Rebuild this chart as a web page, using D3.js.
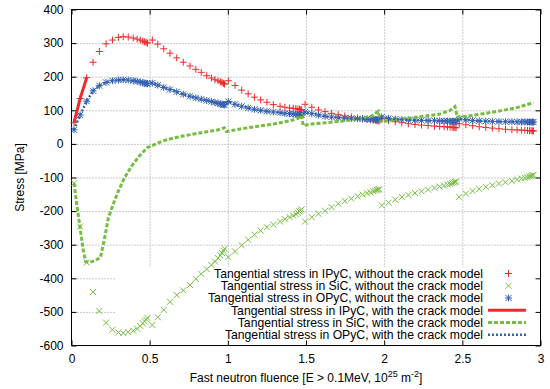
<!DOCTYPE html>
<html>
<head>
<meta charset="utf-8">
<script src="https://cdn.jsdelivr.net/npm/d3@7"></script>
<style>
  body { margin: 0; background: #fff; }
  svg { display: block; font-family: "Liberation Sans", Arial, Helvetica, sans-serif; }
  .grid line { stroke: #999; stroke-dasharray: 1,2; }
  .grid path { display: none; }
  .axis path { display: none; }
  .axis line { stroke: #000; }
  .axis text { font-size: 12px; fill: #000; }
</style>
</head>
<body>
<svg id="chart" width="550" height="389"></svg>
<script>
// fluence steps of the irradiation history (same for the three "without crack" series)
var fluence = [
  0.016,0.055,0.097,0.138,0.178,0.221,0.262,0.300,0.331,0.363,0.395,0.420,0.440,0.456,0.468,0.478,0.486,
  0.517,0.552,0.590,0.630,0.673,0.715,0.758,0.795,0.830,0.865,0.895,0.918,0.937,0.952,0.963,0.972,0.979,
  1.003,1.046,1.089,1.130,1.170,1.210,1.250,1.291,1.334,1.365,1.395,1.418,1.435,1.448,1.458,1.466,1.472,
  1.494,1.537,1.580,1.622,1.664,1.706,1.748,1.790,1.830,1.862,1.890,1.912,1.930,1.943,1.953,1.961,1.968,
  1.985,2.028,2.071,2.113,2.155,2.197,2.239,2.281,2.322,2.355,2.383,2.405,2.422,2.435,2.445,2.453,2.460,
  2.480,2.523,2.566,2.608,2.650,2.692,2.734,2.776,2.817,2.850,2.878,2.900,2.917,2.930,2.940,2.948,2.955
];

var ipyc = [
  63,135,197,243,275,298,309,317,319,318,315,312,309,306,304,302,300,
  309,297,283,270,256,243,232,222,213,203,196,191,188,185,183,180,178,
  188,174,160,149,139,131,124,117,112,109,107,106,105,104,103,102,101,
  118,109,101,96,91,87,83,80,77,75,73,72,71,70,69,69,68,
  75,70,66,63,60,58,56,54.5,53,52,51,50.5,50,49.5,49,48.5,48,
  60,57,54,51,49,47,45,43.5,42,41.5,41,40.5,40,39.5,39,39,38.5
];

var sic = [
  -117,-246,-353,-441,-497,-532,-553,-561,-563,-560,-556,-550,-542,-534,-528,-523,-518,
  -539,-516,-494,-470,-450,-436,-420,-402,-387,-373,-360,-350,-340,-332,-325,-318,-312,
  -337,-320,-302,-285,-270,-258,-248,-240,-231,-224,-218,-213,-209,-205,-201,-198,-195,
  -231,-218,-208,-199,-188,-178,-170,-163,-156,-151,-147,-144,-141,-139,-137,-136,-135,
  -183,-175,-166,-158,-152,-146,-141,-136,-131,-127,-124,-121,-119,-117,-115,-113,-112,
  -158,-148,-140,-134,-128,-123,-118,-114,-110,-106,-103,-101,-99,-97,-96,-94,-93
];

var opyc = [
  42,86,127,158,173,183,188,190,191,190,188,186,184,182,181,180,179,
  181,175,168,162,155,148,142,137,133,129,126,123,121,119,118,117,116,
  126,118,112,107,103,100,97,95,93,91,90,89,88,87.5,87,86.5,86,
  95,90,86,82,80,78,77,76,75,74.5,74,73.5,73,73,72.5,72.5,72,
  80,76,74,72.5,71.5,70.5,70,69.5,69,68.5,68,68,67.5,67.5,67,67,67,
  75,72,70,68.5,67.5,67,66.5,66,66,65.5,65.5,65.5,65,65,65,65,65
];

// with the crack model
var ipycCrackFluence = [0.016, 0.055, 0.097];
var ipycCrack = [63, 135, 197];

var sicCrackFluence = [
  0.016,0.035,0.055,0.075,0.090,0.120,0.150,0.185,0.210,0.235,0.270,0.300,0.340,0.385,0.430,0.470,0.488,
  0.500,0.550,0.600,0.660,0.720,0.800,0.880,0.940,0.977,
  0.990,1.100,1.200,1.300,1.400,1.450,1.470,
  1.482,1.550,1.650,1.750,1.850,1.920,1.963,
  1.975,2.050,2.150,2.250,2.350,2.420,2.453,
  2.468,2.550,2.650,2.750,2.850,2.955
];
var sicCrack = [
  -117,-185,-250,-315,-350,-352,-347,-338,-285,-222,-175,-140,-100,-66,-38,-18,-10,
  -8,2,11,18,24,31,37,42,48,
  37,46,53,60,69,76,85,
  55,60,64,69,75,83,97,
  66,70,76,82,88,99,111,
  79,84,91,99,108,123
];

var xTicks = [0, 0.5, 1, 1.5, 2, 2.5, 3];
var yTicks = [-600, -500, -400, -300, -200, -100, 0, 100, 200, 300, 400];

var legendLabels = [
  "Tangential stress in IPyC, without the crack model",
  "Tangential stress in SiC, without the crack model",
  "Tangential stress in OPyC, without the crack model",
  "Tangential stress in IPyC, with the crack model",
  "Tangential stress in SiC, with the crack model",
  "Tangential stress in OPyC, with the crack model"
];

var red = "#ee2a2a", green = "#76bd42", blue = "#3561b0";

var plotL = 71.5, plotR = 540.5, plotT = 9.5, plotB = 345.5;
var svg = d3.select("#chart");

var x = d3.scaleLinear().domain([0, 3]).range([plotL, plotR]);
var y = d3.scaleLinear().domain([-600, 400]).range([plotB, plotT]);

// grid
svg.append("g").attr("class", "grid")
  .attr("transform", "translate(0," + plotB + ")")
  .call(d3.axisBottom(x).tickValues(xTicks.slice(1, -1)).tickSize(-(plotB - plotT)).tickFormat(""));
svg.append("g").attr("class", "grid")
  .attr("transform", "translate(" + plotL + ",0)")
  .call(d3.axisLeft(y).tickValues(yTicks.slice(1, -1)).tickSize(-(plotR - plotL)).tickFormat(""));

// the key area is kept clear of grid lines
svg.append("rect").attr("x", 115).attr("y", 267).attr("width", plotR - 115).attr("height", plotB - 267)
  .attr("fill", "#fff");

// axes (ticks pointing inward, all four sides)
svg.append("g").attr("class", "axis")
  .attr("transform", "translate(0," + plotB + ")")
  .call(d3.axisBottom(x).tickValues(xTicks).tickSizeInner(-5).tickSizeOuter(0).tickPadding(9)
    .tickFormat(function (d) { return String(d); }));
svg.append("g").attr("class", "axis")
  .attr("transform", "translate(0," + plotT + ")")
  .call(d3.axisTop(x).tickValues(xTicks).tickSizeInner(-5).tickSizeOuter(0).tickFormat(""));
svg.append("g").attr("class", "axis")
  .attr("transform", "translate(" + plotL + ",0)")
  .call(d3.axisLeft(y).tickValues(yTicks).tickSizeInner(-5).tickSizeOuter(0).tickPadding(8)
    .tickFormat(function (d) { return String(d); }));
svg.append("g").attr("class", "axis")
  .attr("transform", "translate(" + plotR + ",0)")
  .call(d3.axisRight(y).tickValues(yTicks).tickSizeInner(-5).tickSizeOuter(0).tickFormat(""));

svg.append("rect").attr("x", plotL).attr("y", plotT).attr("width", plotR - plotL).attr("height", plotB - plotT)
  .attr("fill", "none").attr("stroke", "#000").attr("stroke-width", 1);

// point shapes
function plusPath(cx, cy) {
  var s = 3.5;
  return "M" + (cx - s) + "," + cy + "H" + (cx + s) + "M" + cx + "," + (cy - s) + "V" + (cy + s);
}
function crossPath(cx, cy) {
  var s = 3;
  return "M" + (cx - s) + "," + (cy - s) + "L" + (cx + s) + "," + (cy + s) +
         "M" + (cx - s) + "," + (cy + s) + "L" + (cx + s) + "," + (cy - s);
}
function starPath(cx, cy) { return plusPath(cx, cy) + crossPath(cx, cy); }

function drawPoints(values, shape, color) {
  svg.append("g").selectAll("path").data(values).enter().append("path")
    .attr("d", function (d, i) { return shape(x(fluence[i]), y(d)); })
    .attr("fill", "none").attr("stroke", color).attr("stroke-width", 1);
}
drawPoints(ipyc, plusPath, red);
drawPoints(sic, crossPath, green);
drawPoints(opyc, starPath, blue);

function drawLine(xs, ys, color, width, dash) {
  var line = d3.line().x(function (d, i) { return x(xs[i]); }).y(function (d) { return y(d); });
  svg.append("path").datum(ys).attr("d", line)
    .attr("fill", "none").attr("stroke", color).attr("stroke-width", width)
    .attr("stroke-dasharray", dash);
}
drawLine(ipycCrackFluence, ipycCrack, red, 3, null);
drawLine(sicCrackFluence, sicCrack, green, 3, "4,2");
drawLine(fluence, opyc, blue, 2.5, "2,2");

// key
var keyRows = [273.5, 285.8, 298, 310.3, 322.6, 334.8];
var key = svg.append("g").attr("font-size", "12.2px");
legendLabels.forEach(function (label, i) {
  key.append("text").attr("x", 483).attr("y", keyRows[i]).attr("dy", "0.35em")
    .attr("text-anchor", "end").text(label);
});
key.append("path").attr("d", plusPath(508.5, keyRows[0])).attr("stroke", red).attr("fill", "none");
key.append("path").attr("d", crossPath(508.5, keyRows[1])).attr("stroke", green).attr("fill", "none");
key.append("path").attr("d", starPath(508.5, keyRows[2])).attr("stroke", blue).attr("fill", "none");
[[red, 3, null], [green, 3, "4,2"], [blue, 2.5, "2,2"]].forEach(function (s, j) {
  key.append("line").attr("x1", 488).attr("x2", 526)
    .attr("y1", keyRows[3 + j]).attr("y2", keyRows[3 + j])
    .attr("stroke", s[0]).attr("stroke-width", s[1]).attr("stroke-dasharray", s[2]);
});

// axis titles
svg.append("text").attr("transform", "translate(20," + ((plotT + plotB) / 2) + ") rotate(-90)")
  .attr("text-anchor", "middle").attr("dy", "0.35em").attr("font-size", "12px")
  .text("Stress [MPa]");

var xt = svg.append("text").attr("x", (plotL + plotR) / 2).attr("y", 382)
  .attr("text-anchor", "middle").attr("font-size", "12px");
xt.append("tspan").text("Fast neutron fluence [E > 0.1MeV, 10");
xt.append("tspan").attr("font-size", "9px").attr("dy", -5).text("25");
xt.append("tspan").attr("dy", 5).text(" m");
xt.append("tspan").attr("font-size", "9px").attr("dy", -5).text("-2");
xt.append("tspan").attr("dy", 5).text("]");
</script>
</body>
</html>
